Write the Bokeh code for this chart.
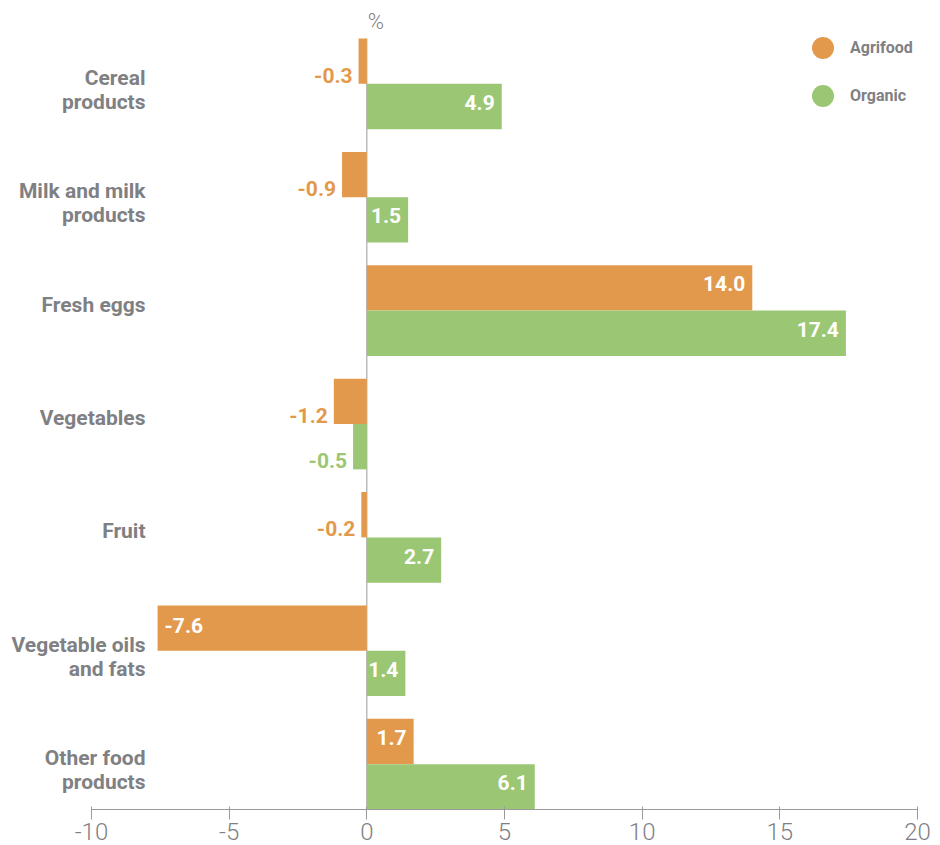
import math
from bokeh.plotting import figure
from bokeh.models import ColumnDataSource, Range1d, Label, Legend, LegendItem, FixedTicker
from bokeh.core.properties import value
from bokeh.embed import file_html
from bokeh.resources import INLINE

# ---- data ----
categories = ["Cereal\nproducts", "Milk and milk\nproducts", "Fresh eggs", "Vegetables",
              "Fruit", "Vegetable oils\nand fats", "Other food\nproducts"]
agrifood = [-0.3, -0.9, 14.0, -1.2, -0.2, -7.6, 1.7]
organic = [4.9, 1.5, 17.4, -0.5, 2.7, 1.4, 6.1]
series_names = ["Agrifood", "Organic"]
x_ticks = [-10, -5, 0, 5, 10, 15, 20]

# ---- style ----
ORANGE = "#E3994B"
GREEN = "#9BC775"
GRAY = "#7F8083"
AXIS_GRAY = "#9A9A9A"
BOLD_FONT = "Roboto"
LIGHT_FONT = "Roboto Light"
BAR_H = 0.4

W, H = 940, 845
n = len(categories)
centers = [n - 1 - i for i in range(n)]

# layout of the scales (pixels inside the canvas)
axis_left_px, axis_right_px = 91, 917          # where x = -10 and x = 20 fall
px_per_x = (axis_right_px - axis_left_px) / (x_ticks[-1] - x_ticks[0])
x_start = x_ticks[0] - axis_left_px / px_per_x
x_end = x_ticks[-1] + (W - axis_right_px) / px_per_x

bars_top_px, bars_bottom_px = 38, 809
y_lo, y_hi = -BAR_H, n - 1 + BAR_H
px_per_y = (bars_bottom_px - bars_top_px) / (y_hi - y_lo)
y_end = y_hi + bars_top_px / px_per_y
y_start = y_lo - (H - bars_bottom_px) / px_per_y

p = figure(width=W, height=H, output_backend="svg", toolbar_location=None,
           x_range=Range1d(x_start, x_end), y_range=Range1d(y_start, y_end),
           min_border_left=0, min_border_right=0, min_border_top=0, min_border_bottom=0)
p.outline_line_color = None
p.grid.grid_line_color = None
p.yaxis.visible = False
p.background_fill_color = "white"
p.border_fill_color = "white"

# zero line (behind bars)
p.segment(x0=0, y0=y_lo, x1=0, y1=y_hi, line_color=AXIS_GRAY, line_width=1)

legend_renderers = []
for s_idx, (name, vals, col) in enumerate(zip(series_names, [agrifood, organic], [ORANGE, GREEN])):
    off = BAR_H / 2 if s_idx == 0 else -BAR_H / 2
    ys = [c + off for c in centers]
    src = ColumnDataSource(dict(y=ys, right=vals))
    p.hbar(y="y", left=0, right="right", height=BAR_H, source=src, fill_color=col, line_color=None)

    # value labels
    xs, texts, aligns, colors, xoffs, yoffs = [], [], [], [], [], []
    for v in vals:
        xs.append(v)
        texts.append(f"{v:.1f}")
        if v > 0:
            aligns.append("right"); colors.append("white"); xoffs.append(-7); yoffs.append(-4)
        elif v < -3:
            aligns.append("left"); colors.append("white"); xoffs.append(7); yoffs.append(-3)
        else:
            aligns.append("right"); colors.append(col); xoffs.append(-6); yoffs.append(14)
    lsrc = ColumnDataSource(dict(x=xs, y=ys, text=texts, align=aligns, color=colors, xo=xoffs, yo=yoffs))
    p.text(x="x", y="y", text="text", source=lsrc, text_align="align", text_color="color",
           x_offset="xo", y_offset="yo", text_baseline="middle",
           text_font=value(BOLD_FONT), text_font_style="bold", text_font_size="21px")

    # legend marker (not drawn in the plot area)
    r = p.scatter(x=[math.nan], y=[math.nan], marker="circle", fill_color=col, line_color=None)
    legend_renderers.append((name, r))

# category labels (two-line labels sit slightly lower, one-line labels slightly higher)
cat_yoff = [6 if "\n" in c else -6 for c in categories]
csrc = ColumnDataSource(dict(y=centers, text=categories, yo=cat_yoff))
p.text(x=x_ticks[0], y="y", text="text", source=csrc, x_offset=54, y_offset="yo", text_align="right",
       text_baseline="middle", text_color=GRAY, text_font=value(BOLD_FONT), text_font_style="bold",
       text_font_size="21px", text_line_height=1.02)

# % label
p.add_layout(Label(x=0, y=y_hi, text="%", x_offset=1, y_offset=5, text_baseline="bottom",
                   text_color=GRAY, text_font=LIGHT_FONT, text_font_size="22px"))

# legends: one per item, circles of 22px (glyph box 55 -> marker 0.4*55)
legend_pos = [(795, 770), (795, 722)]
for (name, r), loc in zip(legend_renderers, legend_pos):
    lg = Legend(items=[LegendItem(label=name, renderers=[r])], location=loc,
                glyph_width=55, glyph_height=55, padding=0, margin=0, label_standoff=0,
                border_line_color=None, background_fill_alpha=0, label_text_color=GRAY,
                label_text_font=BOLD_FONT, label_text_font_style="bold", label_text_font_size="16px")
    p.add_layout(lg)

# x axis, pinned to the bottom of the bars
ax = p.xaxis[0]
ax.fixed_location = y_lo
ax.ticker = FixedTicker(ticks=x_ticks)
ax.bounds = (x_ticks[0], x_ticks[-1])
ax.major_label_overrides = {t: str(t) for t in x_ticks}
ax.axis_line_color = AXIS_GRAY
ax.major_tick_line_color = AXIS_GRAY
ax.major_tick_in = 3
ax.major_tick_out = 10
ax.minor_tick_line_color = None
ax.major_label_standoff = 3
ax.major_label_text_color = GRAY
ax.major_label_text_font = LIGHT_FONT
ax.major_label_text_font_size = "24px"

open("out.html", "w").write(file_html(p, INLINE))
